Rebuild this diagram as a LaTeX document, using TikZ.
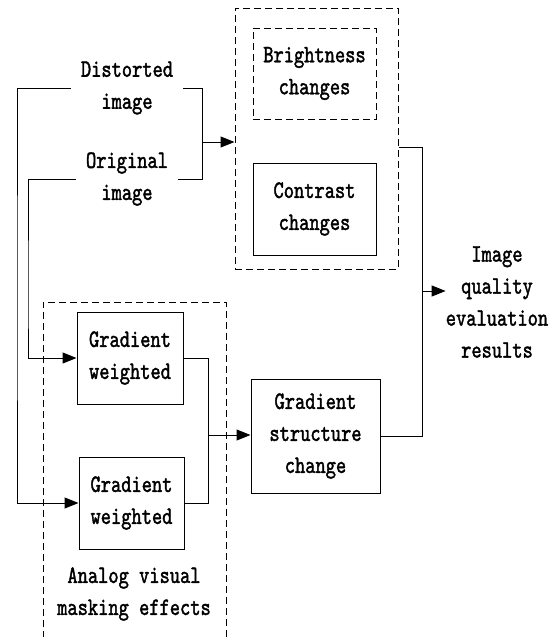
\documentclass[tikz,border=0pt]{standalone}
\usepackage{fontspec}
\setmonofont{lmmono10-regular.otf}[FakeStretch=0.78, FakeBold=1.6]
\usetikzlibrary{arrows.meta, positioning}

\begin{document}
\begin{tikzpicture}[
    x=1pt, y=-1pt,
    every node/.style={font=\ttfamily\fontsize{25}{32}\selectfont},
    box/.style={rectangle, draw, line width=1pt, minimum width=106pt, minimum height=92pt, align=center, inner sep=0pt},
    dbox/.style={box, dash pattern=on 7pt off 4pt},
    label/.style={align=center, inner xsep=10pt, inner ysep=0pt},
    wire/.style={line width=1pt},
    arrow/.style={wire, -{Triangle[length=14pt, width=11pt]}}
]
\useasboundingbox (0,0) rectangle (553,637);

% Inputs
\node[label] (dist) at (127,88) {Distorted\\image};
\node[label] (orig) at (127,179) {Original\\image};

% Luminance / contrast group
\node[dbox, minimum width=163pt, minimum height=261pt] (outer) at (316.5,138.5) {};
\node[dbox, minimum width=123pt, minimum height=91pt] (bright) at (314.5,73.5) {Brightness\\changes};
\node[box, minimum width=123pt] (contrast) at (314.5,209) {Contrast\\changes};

% Masking group (runs off the bottom edge)
\draw[wire, dash pattern=on 7pt off 4pt] (43,660) -- (43,302) -- (226,302) -- (226,660);
\node[box] (gwa) at (130,358) {Gradient\\weighted};
\node[box, minimum width=105pt] (gwb) at (131.5,503) {Gradient\\weighted};
\node[label] (mask) at (134,594) {Analog visual\\masking effects};

% Structure and result
\node[box, minimum width=129pt, minimum height=114pt] (gsc) at (315.5,436) {Gradient\\structure\\change};
\node[label, inner xsep=0pt] (res) at (497,302) {Image\\quality\\evaluation\\results};

% Junction points
\coordinate (joina) at (202,142);
\coordinate (joinb) at (208,435);
\coordinate (joinc) at (422,291);

% Inputs to the weighted gradients
\draw[arrow] (dist.west) -| (17,300) |- (gwb.west);
\draw[arrow] (orig.west) -| (28,300) |- (gwa.west);

% Inputs to the luminance / contrast group
\draw[wire] (dist.east) -| (joina);
\draw[wire] (orig.east) -| (joina);
\draw[arrow] (joina) -- (outer.west |- joina);

% Weighted gradients to structure change
\draw[wire] (gwa.east) -| (joinb);
\draw[wire] (gwb.east) -| (joinb);
\draw[arrow] (joinb) -- (gsc.west |- joinb);

% Both branches to the result
\draw[wire] (outer.east |- 0,147) -| (joinc);
\draw[wire] (gsc.east) -| (joinc);
\draw[arrow] (joinc) -- (res.west |- joinc);
\end{tikzpicture}
\end{document}
